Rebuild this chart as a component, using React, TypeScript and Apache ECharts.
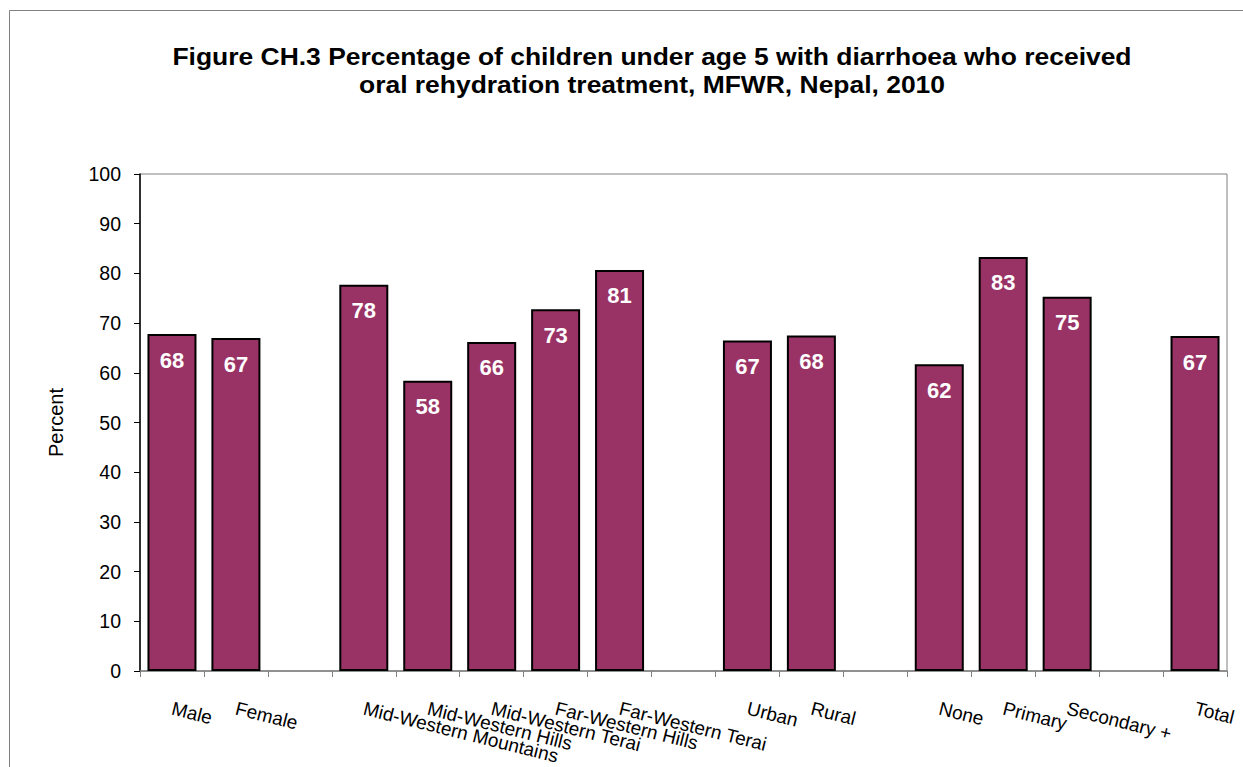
import React, { useEffect, useRef } from "react";
import * as echarts from "echarts";

const categories = [
  "Male", "Female", "",
  "Mid-Western Mountains", "Mid-Western Hills", "Mid-Western Terai", "Far-Western Hills", "Far-Western Terai", "",
  "Urban", "Rural", "",
  "None", "Primary", "Secondary +", "",
  "Total",
];
const values: (number | null)[] = [
  67.8, 67.0, null,
  77.7, 58.4, 66.2, 72.8, 80.7, null,
  66.5, 67.5, null,
  61.7, 83.3, 75.3, null,
  67.4,
];
const valueLabels: (string | null)[] = [
  "68", "67", null,
  "78", "58", "66", "73", "81", null,
  "67", "68", null,
  "62", "83", "75", null,
  "67",
];
const yTicks = { min: 0, max: 100, interval: 10 };
const titleLines = [
  "Figure CH.3 Percentage of children under age 5 with diarrhoea who received",
  "oral rehydration treatment, MFWR, Nepal, 2010",
];

export default function App() {
  const ref = useRef<HTMLDivElement>(null);
  useEffect(() => {
    if (!ref.current) return;
    const chart = echarts.init(ref.current, undefined, { renderer: "svg" });
    const font = "'Liberation Sans', Arial, sans-serif";
    chart.setOption({
      animation: false,
      backgroundColor: "#ffffff",
      textStyle: { fontFamily: font },
      graphic: [
        {
          type: "rect",
          shape: { x: 9.5, y: 10.5, width: 1300, height: 800 },
          style: { fill: "none", stroke: "#808080", lineWidth: 1 },
          silent: true,
        },
        ...titleLines.map((t, i) => ({
          type: "text",
          x: 652,
          y: 57 + i * 28,
          scaleX: 1.15,
          style: {
            text: t,
            fontSize: 23,
            fontWeight: "bold",
            fontFamily: font,
            fill: "#000",
            textAlign: "center",
            textVerticalAlign: "middle",
          },
        })),
      ],
      grid: {
        left: 140,
        top: 174,
        right: 16,
        bottom: 96,
        show: true,
        borderColor: "#808080",
        borderWidth: 1,
        backgroundColor: "transparent",
      },
      xAxis: {
        type: "category",
        data: categories,
        boundaryGap: true,
        axisLine: { show: true, lineStyle: { color: "#808080", width: 1.5 } },
        axisTick: { show: true, length: 6, lineStyle: { color: "#808080" } },
        axisLabel: {
          interval: 0,
          rotate: -14,
          margin: 37,
          fontSize: 19,
          color: "#000",
          fontFamily: font,
          hideOverlap: false,
        },
        splitLine: { show: false },
      },
      yAxis: {
        type: "value",
        min: yTicks.min,
        max: yTicks.max,
        interval: yTicks.interval,
        name: "Percent",
        nameLocation: "middle",
        nameGap: 74,
        nameRotate: 90,
        nameTextStyle: { fontSize: 20, color: "#000", fontFamily: font },
        axisLine: { show: true, lineStyle: { color: "#000", width: 1.5 } },
        axisTick: { show: true, length: 6, lineStyle: { color: "#000" } },
        axisLabel: { fontSize: 19.5, color: "#000", margin: 19, fontFamily: font },
        splitLine: { show: false },
      },
      series: [
        {
          type: "bar",
          data: values,
          barWidth: 49,
          itemStyle: { color: "#993366", borderColor: "#000", borderWidth: 2 },
          label: {
            show: true,
            position: "insideTop",
            distance: 15,
            color: "#fff",
            fontSize: 22,
            fontWeight: "bold",
            fontFamily: font,
            formatter: (p: any) => valueLabels[p.dataIndex] ?? "",
          },
        },
      ],
    });
    return () => chart.dispose();
  }, []);
  return (
    <div
      ref={ref}
      style={{ position: "fixed", left: 0, top: 0, width: 1243, height: 767 }}
    />
  );
}
